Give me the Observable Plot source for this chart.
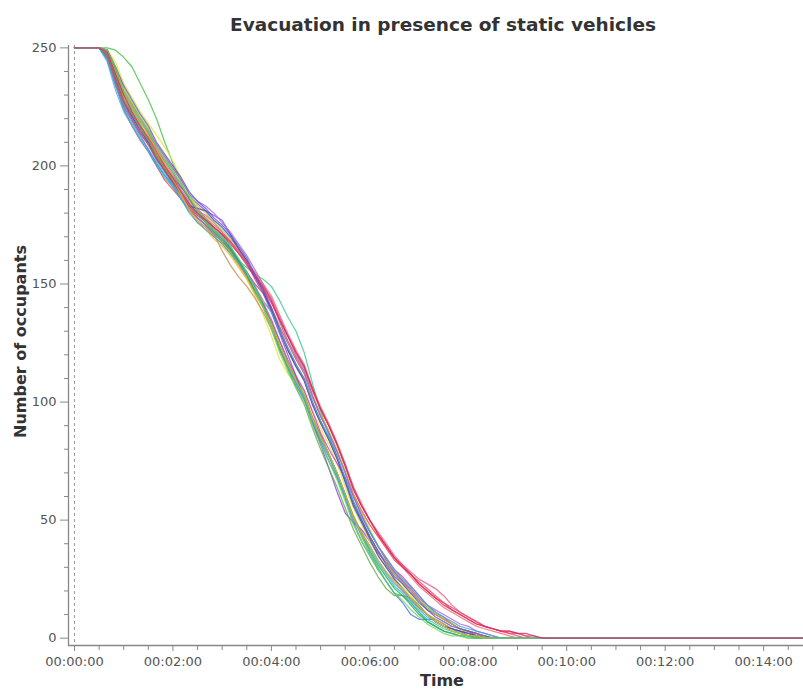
<!DOCTYPE html>
<html><head><meta charset="utf-8">
<script src="https://cdn.jsdelivr.net/npm/d3@7"></script>
<script src="https://cdn.jsdelivr.net/npm/@observablehq/plot@0.6"></script>
<style>body{margin:0;background:#fff;}</style>
</head><body><div id="chart"></div>
<script>
// time in seconds at which occupant counts were read
const times = [0,30,40,50,60,70,80,90,100,110,120,130,140,150,160,170,180,190,200,210,220,230,240,250,260,270,280,290,300,310,320,330,340,350,360,370,380,390,400,410,420,430,440,450,460,470,480,490,500,510,520,530,540,550,560,570];
const endTime = 888;

const run01 = [250,250,250,249,246,242,235,228,220,210,201,193,186,181,178,174,171,166,160,154,148,141,134,126,117,110,104,93,86,78,70,61,51,43,36,30,24,19,18,15,11,7,5,3,2,1,0];
const run02 = [250,250,245,234,225,219,213,207,201,196,192,186,181,178,175,171,168,165,159,153,146,140,131,122,115,107,101,91,83,75,68,59,49,41,35,29,24,19,15,10,8,8,8,6,4,3,1,0];
const run03 = [250,250,247,238,228,222,216,211,205,199,195,191,187,184,181,179,177,171,165,159,152,146,138,129,120,111,102,92,82,72,62,53,49,46,41,36,32,28,24,20,16,12,10,8,6,4,3,2,0];
const run04 = [250,250,246,235,224,217,211,206,200,194,190,186,182,178,175,172,168,164,160,155,150,146,140,132,125,118,112,102,94,87,79,70,61,54,48,43,38,33,30,27,23,20,17,15,12,10,8,6,5,4,3,3,2,1,0];
const run05 = [250,250,249,244,235,229,223,218,213,208,202,195,188,181,177,172,168,163,158,152,145,137,128,118,112,108,104,96,89,82,74,64,55,48,41,35,30,25,22,18,14,10,8,6,4,2,1,0];
const run06 = [250,250,248,240,231,225,219,213,207,201,196,190,185,181,179,176,172,168,164,159,154,149,144,136,128,120,114,105,97,90,82,73,64,56,50,45,40,35,31,28,25,23,21,18,14,11,9,7,5,4,3,2,2,1,1,0];
const run07 = [250,250,248,240,230,224,218,211,204,199,194,189,184,180,176,173,169,165,160,157,154,152,149,143,136,130,121,108,96,86,77,67,58,50,43,37,32,27,23,19,16,13,10,8,6,4,3,1,0];
const run08 = [250,250,247,237,228,221,216,210,204,198,192,187,181,176,174,171,164,158,153,149,144,138,131,123,116,109,102,94,86,78,70,61,52,45,39,33,28,24,20,16,13,10,8,6,4,3,2,1,1,0];
const run09 = [250,250,246,236,226,220,214,209,203,198,193,188,182,178,175,172,169,165,160,155,149,142,135,126,118,111,105,96,87,80,74,68,60,52,45,39,34,29,26,22,18,14,11,9,6,4,3,1,0];
const run10 = [250,250,244,232,223,217,211,206,200,195,191,186,181,178,175,172,169,165,160,154,147,141,133,123,115,108,102,92,84,77,69,60,50,44,39,33,28,23,20,16,12,9,7,5,4,2,1,1,0];
const run11 = [250,250,249,242,233,227,221,216,209,204,199,194,188,183,180,176,173,169,165,160,154,149,143,134,126,119,113,103,95,88,80,71,61,53,46,39,33,28,25,21,17,13,11,8,6,4,2,1,0];
const run12 = [250,250,248,239,229,223,217,211,205,200,194,188,182,177,174,170,167,163,158,153,148,142,139,130,122,115,109,99,91,84,76,67,57,50,43,37,32,27,24,20,16,12,10,8,6,4,3,2,1,0];
const run13 = [250,250,247,237,227,221,215,210,203,198,193,188,183,182,181,177,174,170,165,160,153,147,139,130,122,115,109,99,91,84,76,66,56,49,42,35,30,25,21,17,13,10,7,5,4,3,2,1,0];
const run15 = [250,250,246,236,226,220,214,209,202,197,192,188,183,180,177,173,170,166,160,155,148,141,133,124,115,108,102,92,84,77,69,60,51,44,38,32,27,22,19,15,11,8,6,4,3,2,1,0];
const run16 = [250,250,248,240,231,226,220,215,209,204,199,194,188,185,183,180,176,172,167,162,156,150,143,134,126,119,113,103,94,87,79,70,60,52,45,39,33,28,24,21,17,14,12,10,8,6,5,3,2,1,0];
const run17 = [250,250,247,238,228,222,216,211,204,199,194,188,183,179,176,172,168,164,159,154,147,141,133,123,114,106,99,89,80,72,64,55,46,39,32,26,21,18,18,17,14,10,7,5,3,2,1,1,0];
const run18 = [250,250,249,241,232,226,220,215,208,203,198,192,186,182,178,175,172,168,164,159,155,150,145,137,129,122,116,106,98,91,83,74,64,57,50,44,39,34,30,26,22,19,16,13,11,9,7,5,4,3,2,1,0];
const run19 = [250,250,249,241,231,225,219,214,207,202,197,191,186,181,177,173,170,165,160,154,147,141,133,124,116,109,103,93,85,78,70,61,51,44,37,31,26,21,18,14,10,7,5,3,2,1,1,0];
const run20 = [250,250,246,236,227,220,214,209,203,198,193,188,183,179,177,174,171,168,163,159,154,149,143,135,128,121,115,105,97,90,82,73,63,56,50,44,39,34,31,27,24,21,18,15,13,11,9,7,5,4,3,2,1,0];
const run21 = [250,250,249,242,234,228,222,217,210,205,200,195,189,185,182,178,175,171,166,161,154,148,140,131,123,116,110,100,92,85,77,67,57,50,43,37,31,26,23,19,15,12,9,7,5,4,3,2,1,0];
const run22 = [250,250,248,240,231,225,219,213,207,201,195,188,181,176,173,169,166,162,157,152,146,140,133,124,116,109,103,93,85,78,70,61,51,44,39,33,28,24,21,17,13,10,7,5,3,2,1,1,0];
const run23 = [250,250,245,234,224,218,212,207,201,196,191,186,180,176,173,170,167,163,159,154,149,143,138,130,123,116,110,100,92,85,77,68,58,51,45,39,34,29,25,22,18,14,11,9,7,5,4,3,2,1,0];
const run24 = [250,250,249,242,232,226,220,215,208,203,198,192,187,181,177,173,170,166,161,155,148,140,131,121,113,106,100,90,82,75,67,58,48,41,35,29,24,19,16,12,9,6,4,2,1,1,0];
const run14 = [250,250,248,239,230,223,217,212,206,200,195,189,184,180,177,174,171,167,163,158,153,148,142,135,128,121,115,106,97,90,82,73,63,56,50,44,39,34,30,27,23,20,17,14,12,10,8,6,5,4,3,3,2,2,1,0];

const runNames = ["run01","run02","run03","run04","run05","run06","run07","run08","run09","run10","run11","run12","run13","run15","run16","run17","run18","run19","run20","run21","run22","run23","run24","run14"];
const runValues = [run01,run02,run03,run04,run05,run06,run07,run08,run09,run10,run11,run12,run13,run15,run16,run17,run18,run19,run20,run21,run22,run23,run24,run14];
const runColors = ["#3fbf3f","#3b6fd6","#8d3ed4","#e83a2f","#e6e22e","#f0508c","#30c48e","#c08850","#d22fc4","#4fa3e6","#96d42e","#f28a2c","#2f3fb8","#2fb6c8","#a35ee8","#5faa3a","#f26272","#1fa85a","#f03e5e","#5a4fd0","#e8b82e","#38a8d8","#6cd06c","#d0286a"];

const yMajor = [0,50,100,150,200,250];
const yMinor = [10,20,30,40,60,70,80,90,110,120,130,140,160,170,180,190,210,220,230,240];
const xMajor = [0,120,240,360,480,600,720,840];
const xMinor = [30,60,90,150,180,210,270,300,330,390,420,450,510,540,570,630,660,690,750,780,810,870];
const xDomain = [-7.3, 888.6];
const yDomain = [-3.1, 251];

const title = "Evacuation in presence of static vehicles";
const xLabel = "Time";
const yLabel = "Number of occupants";

const rows = [];
runValues.forEach((vals, k) => {
  vals.forEach((v, i) => rows.push({run: runNames[k], t: times[i], v}));
  rows.push({run: runNames[k], t: endTime, v: vals[vals.length - 1]});
});

const fmt = s => { const m = Math.floor(s / 60); return "00:" + String(m).padStart(2, "0") + ":00"; };

const chart = Plot.plot({
  width: 803, height: 691,
  marginLeft: 68, marginRight: 0, marginTop: 45, marginBottom: 46,
  style: {fontFamily: "DejaVu Sans, Verdana, sans-serif", fontSize: "13px", background: "#fff"},
  x: {domain: xDomain},
  y: {domain: yDomain},
  color: {domain: runNames, range: runColors},
  marks: [
    Plot.ruleX([0], {stroke: "#999", strokeDasharray: "3,3", strokeWidth: 1}),
    Plot.line(rows, {x: "t", y: "v", z: "run", stroke: "run", strokeWidth: 1.25, strokeOpacity: 0.78}),
    Plot.ruleX([xDomain[0]], {stroke: "#888", strokeWidth: 1.3}),
    Plot.ruleY([yDomain[0]], {stroke: "#888", strokeWidth: 1.3}),
    Plot.axisY({ticks: yMajor, tickSize: 8, tickPadding: 4, label: null, stroke: "#888", fill: "#555", fontSize: 13}),
    Plot.axisY({ticks: yMinor, tickSize: 4, tickFormat: () => "", label: null, stroke: "#888"}),
    Plot.axisX({ticks: xMajor, tickSize: 6, tickPadding: 5, tickFormat: fmt, label: null, stroke: "#888", fill: "#555", fontSize: 13}),
    Plot.axisX({ticks: xMinor, tickSize: 5, tickFormat: () => "", label: null, stroke: "#888"}),
    Plot.text([title], {text: d => d, frameAnchor: "top", lineAnchor: "middle", textAnchor: "middle", dy: -20, dx: 7, fontWeight: "bold", fontSize: 18.5, fill: "#333"}),
    Plot.text([xLabel], {text: d => d, frameAnchor: "bottom", lineAnchor: "middle", textAnchor: "middle", dy: 35, dx: 6, fontWeight: "bold", fontSize: 16, fill: "#333"}),
    Plot.text([yLabel], {text: d => d, frameAnchor: "left", lineAnchor: "middle", textAnchor: "middle", rotate: -90, dx: -48, dy: -4, fontWeight: "bold", fontSize: 16, fill: "#333"})
  ]
});
document.getElementById("chart").appendChild(chart);
</script></body></html>
